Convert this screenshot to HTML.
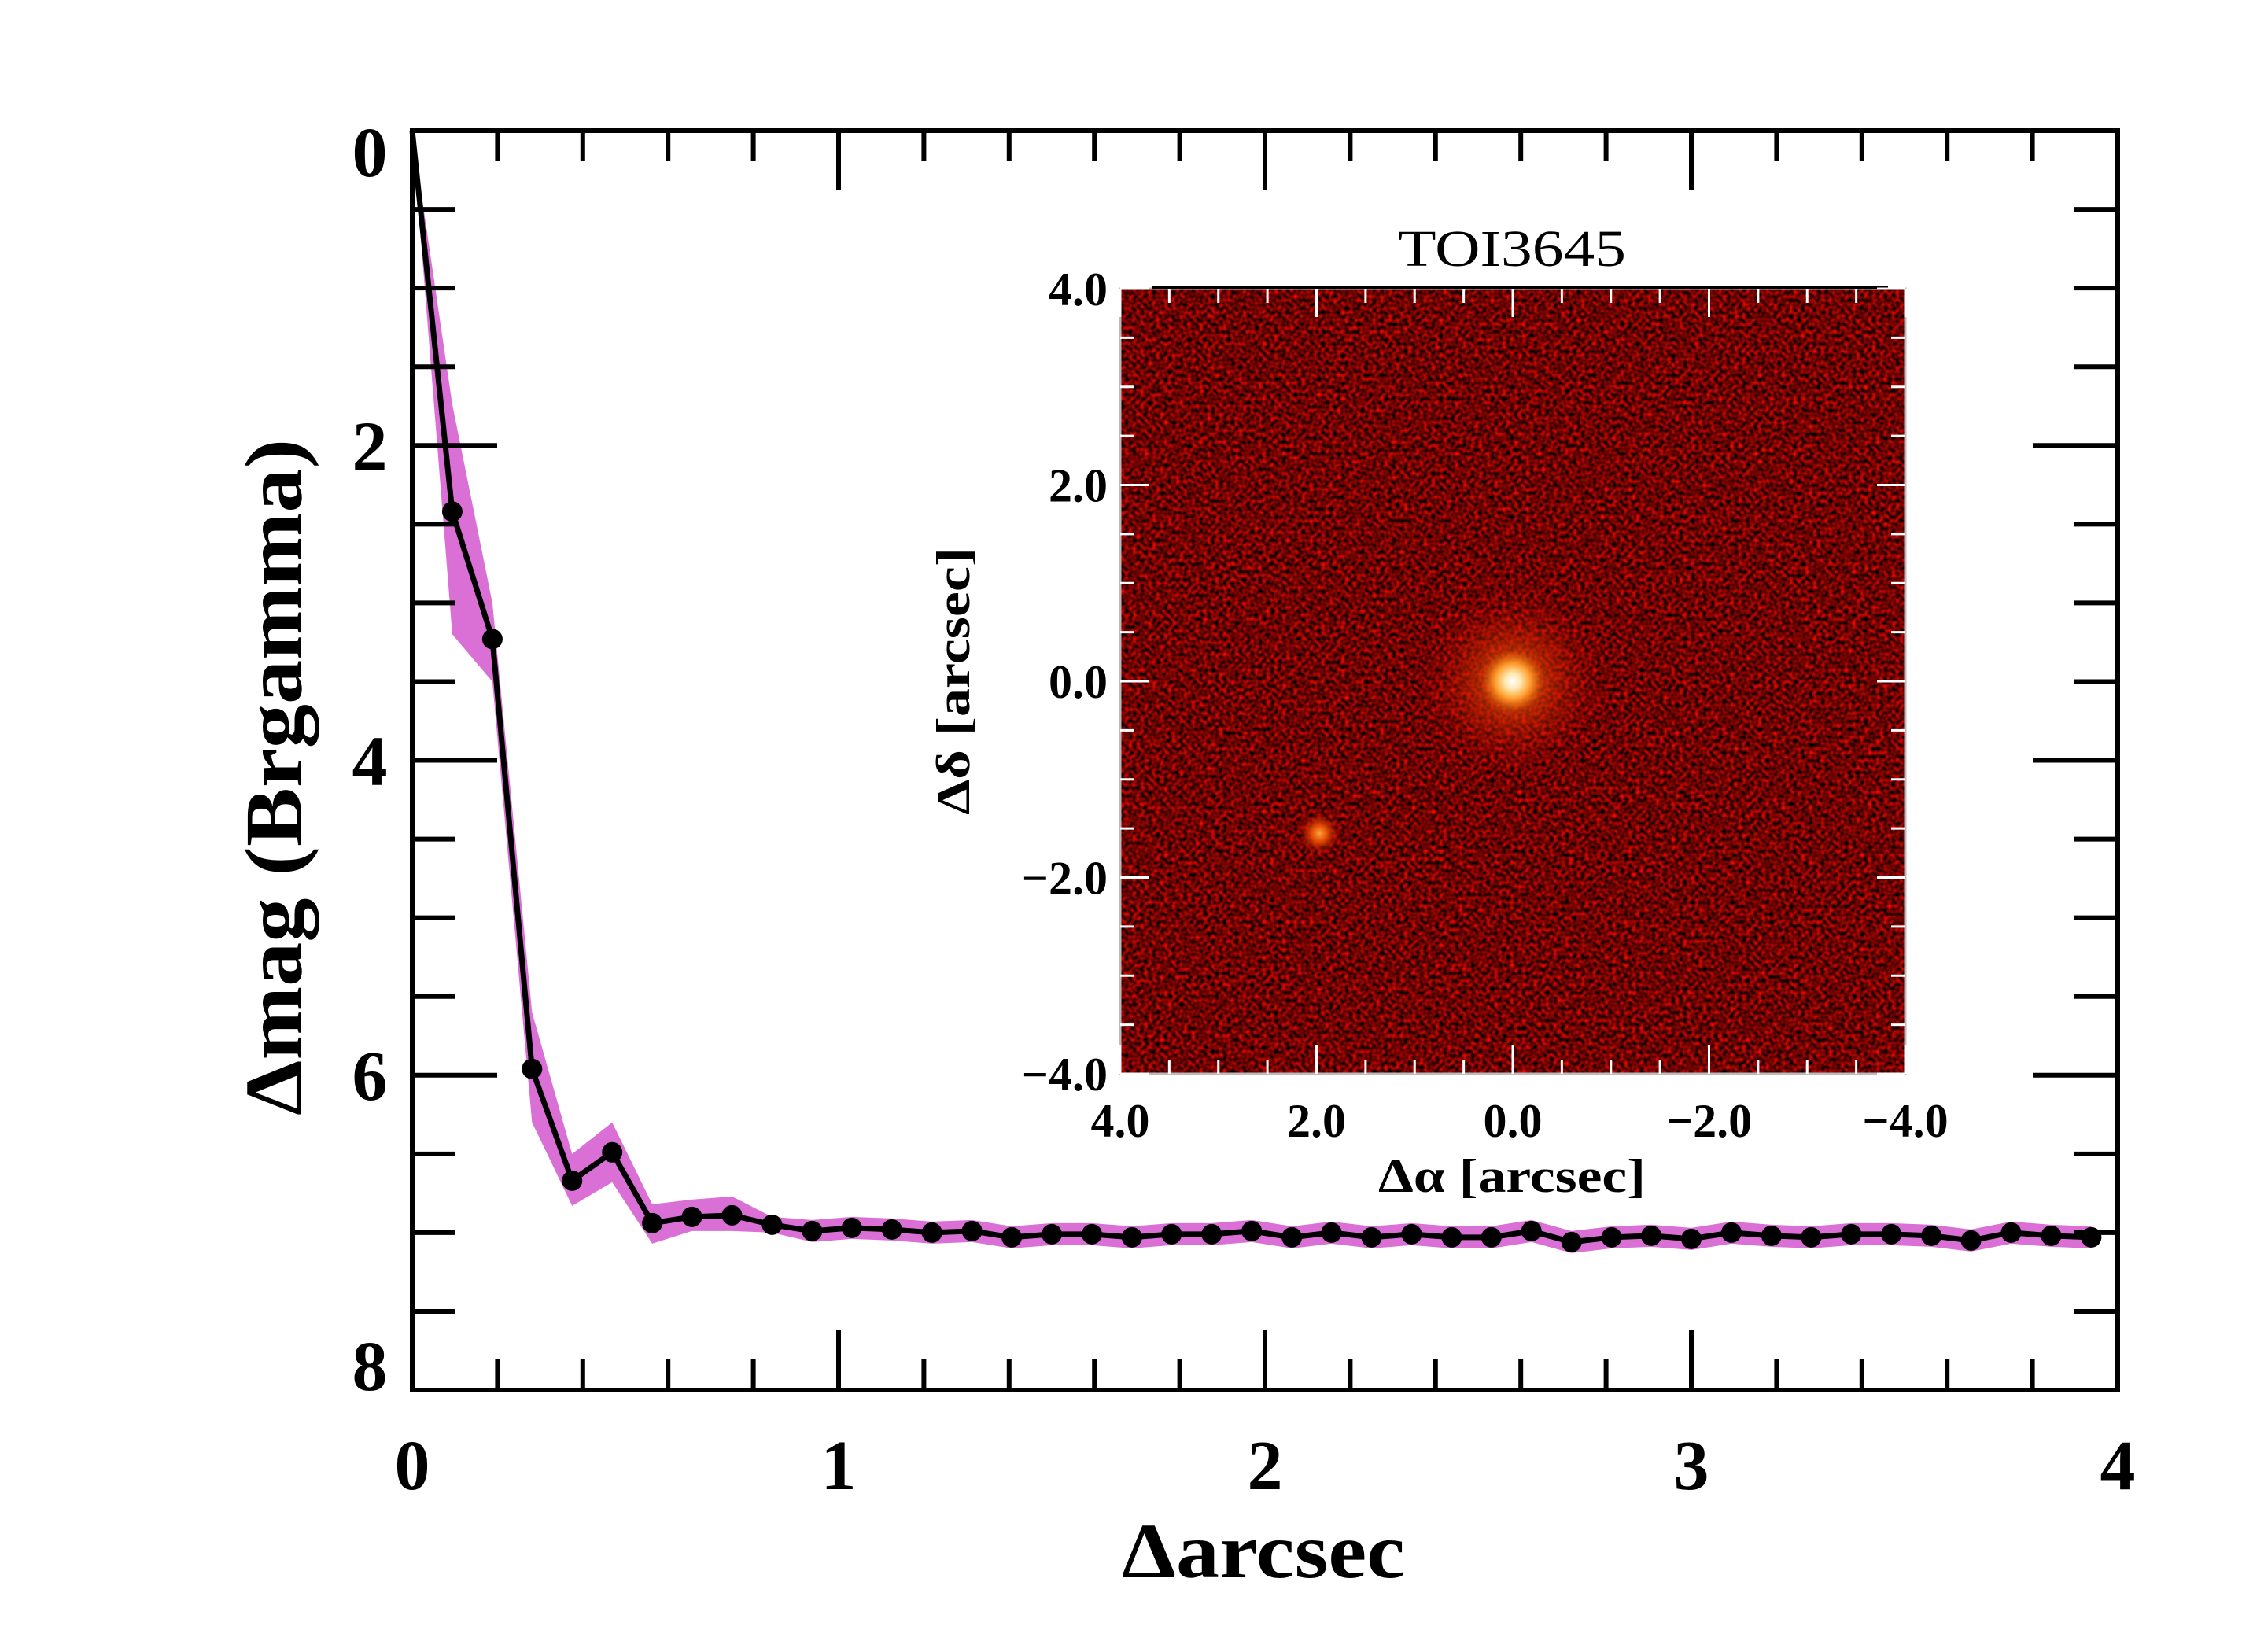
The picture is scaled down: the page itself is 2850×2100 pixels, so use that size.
<!DOCTYPE html>
<html><head><meta charset="utf-8"><style>
html,body{margin:0;padding:0;background:#fff}
svg{display:block}
text{font-family:"Liberation Serif",serif}
</style></head><body>
<svg id="chart" width="2850" height="2100" viewBox="0 0 2850 2100" xmlns="http://www.w3.org/2000/svg">
<defs>
<filter id="noise" x="0" y="0" width="100%" height="100%" color-interpolation-filters="sRGB">
<feTurbulence type="fractalNoise" baseFrequency="0.2" numOctaves="1" seed="7" result="t"/>
<feColorMatrix in="t" type="matrix" values="1.7 0 0 0 -0.42  0.08 0 0 0 -0.03  0 0 0 0 0  0 0 0 0 1"/>
</filter>
<radialGradient id="halo" cx="0.5" cy="0.5" r="0.5">
<stop offset="0" stop-color="#ff8a1a" stop-opacity="0.75"/>
<stop offset="0.45" stop-color="#d83000" stop-opacity="0.5"/>
<stop offset="1" stop-color="#a00000" stop-opacity="0"/>
</radialGradient>
<radialGradient id="core" cx="0.5" cy="0.5" r="0.5">
<stop offset="0" stop-color="#ffffff"/>
<stop offset="0.25" stop-color="#ffe8b0"/>
<stop offset="0.55" stop-color="#ffa030"/>
<stop offset="1" stop-color="#f06000" stop-opacity="0"/>
</radialGradient>
<radialGradient id="comp" cx="0.5" cy="0.5" r="0.5">
<stop offset="0" stop-color="#ffa040"/>
<stop offset="0.4" stop-color="#e04a00"/>
<stop offset="1" stop-color="#b01000" stop-opacity="0"/>
</radialGradient>
</defs>
<g id="main"></g>
<g id="inset"></g>
</svg>
<script>
// ---- main chart data ----
const sepArcsec = [0,0.094,0.188,0.281,0.375,0.469,0.563,0.656,0.75,0.844,0.938,1.031,1.125,1.219,1.313,1.406,1.5,1.594,1.688,1.781,1.875,1.969,2.063,2.156,2.25,2.344,2.438,2.531,2.625,2.719,2.813,2.906,3.0,3.094,3.188,3.281,3.375,3.469,3.563,3.656,3.75,3.844,3.938];
const deltaMag = [0,2.42,3.23,5.96,6.67,6.49,6.94,6.9,6.89,6.95,6.99,6.97,6.98,7.0,6.99,7.03,7.01,7.01,7.03,7.01,7.01,6.99,7.03,7.0,7.03,7.01,7.03,7.03,6.99,7.06,7.03,7.02,7.04,7.0,7.02,7.03,7.01,7.01,7.02,7.05,7.0,7.02,7.03];
const bandUpper = [0,1.74,3.0,5.6,6.5,6.3,6.82,6.79,6.77,6.9,6.92,6.9,6.91,6.93,6.92,6.96,6.94,6.94,6.96,6.94,6.94,6.92,6.96,6.93,6.96,6.94,6.96,6.96,6.92,6.99,6.96,6.95,6.97,6.93,6.95,6.96,6.94,6.94,6.95,6.98,6.93,6.95,6.96];
const bandLower = [0,3.2,3.5,6.3,6.83,6.68,7.07,6.99,6.99,7.0,7.06,7.04,7.05,7.07,7.06,7.1,7.08,7.08,7.1,7.08,7.08,7.06,7.1,7.07,7.1,7.08,7.1,7.1,7.06,7.13,7.1,7.09,7.11,7.07,7.09,7.1,7.08,7.08,7.09,7.12,7.07,7.09,7.1];
const xTickLabels = ["0","1","2","3","4"];
const yTickLabels = ["0","2","4","6","8"];
// ---- inset data ----
const insetTicks = [4,2,0,-2,-4];
const insetTickLabels = ["4.0","2.0","0.0","\u22122.0","\u22124.0"];
const primaryStar = [0.0,0.0];
const companionStar = [1.97,-1.55];

const NS="http://www.w3.org/2000/svg";
function mk(tag,attrs,parent){const e=document.createElementNS(NS,tag);for(const k in attrs)e.setAttribute(k,attrs[k]);parent.appendChild(e);return e;}

const L=524,R=2692,T=166,B=1767;
const X0=0,X1=4,Y0=0,Y1=8;
function sx(v){return L+(v-X0)/(X1-X0)*(R-L);}
function sy(v){return T+(v-Y0)/(Y1-Y0)*(B-T);}
const main=document.getElementById('main');

let pts=[];
for(let i=0;i<sepArcsec.length;i++)pts.push(sx(sepArcsec[i])+','+sy(bandUpper[i]));
for(let i=sepArcsec.length-1;i>=0;i--)pts.push(sx(sepArcsec[i])+','+sy(bandLower[i]));
const band=mk('polygon',{points:pts.join(' '),fill:'#da70d6',stroke:'none'},main);



const lp=sepArcsec.map((x,i)=>sx(x)+','+sy(deltaMag[i])).join(' ');
const line=mk('polyline',{points:lp,fill:'none',stroke:'#000','stroke-width':7,'stroke-linejoin':'round'},main);



for(let i=1;i<sepArcsec.length;i++){
  const c=mk('circle',{cx:sx(sepArcsec[i]),cy:sy(deltaMag[i]),r:13,fill:'#000'},main);
  
  
}

const frame=mk('rect',{x:L,y:T,width:R-L,height:B-T,fill:'none',stroke:'#000','stroke-width':6},main);



for(let k=0;k<=20;k++){
  const v=k*0.2, x=sx(v), major=(k%5===0);
  const len=major?76:39;
  mk('line',{x1:x,y1:B,x2:x,y2:B-len,stroke:'#000','stroke-width':6},main);
  mk('line',{x1:x,y1:T,x2:x,y2:T+len,stroke:'#000','stroke-width':6},main);
}
xTickLabels.forEach((s,i)=>{
  const t=mk('text',{x:sx(i),y:1893,'font-size':90,'font-weight':'bold','text-anchor':'middle'},main);
  t.textContent=s;
  
  
});
for(let k=0;k<=16;k++){
  const v=k*0.5, y=sy(v), major=(k%4===0);
  const len=major?108:55;
  mk('line',{x1:L,y1:y,x2:L+len,y2:y,stroke:'#000','stroke-width':6},main);
  mk('line',{x1:R,y1:y,x2:R-len,y2:y,stroke:'#000','stroke-width':6},main);
}
yTickLabels.forEach((s,i)=>{
  let off=31;
  if(i===0) off=58;
  if(i===yTickLabels.length-1) off=0;
  const t=mk('text',{x:470,y:sy(i*2)+off,'font-size':90,'font-weight':'bold','text-anchor':'middle'},main);
  t.textContent=s;
  
  
});
const xt=mk('text',{x:1606,y:2005,'font-size':100,'font-weight':'bold','text-anchor':'middle',textLength:360,lengthAdjust:'spacingAndGlyphs'},main);
xt.textContent='\u0394arcsec';


const yt=mk('text',{x:0,y:0,'font-size':104,'font-weight':'bold','text-anchor':'middle',transform:'translate(383,988) rotate(-90)',textLength:860,lengthAdjust:'spacingAndGlyphs'},main);
yt.textContent='\u0394mag (Brgamma)';



// ---- inset ----
const IL=1424,IR=2422,IT=367,IB=1365;
function ix(v){return IL+(4-v)/8*(IR-IL);}
function iy(v){return IT+(4-v)/8*(IB-IT);}
const ins=document.getElementById('inset');
const bg=mk('rect',{x:IL,y:IT,width:IR-IL,height:IB-IT,fill:'#000'},ins);


const nz=mk('rect',{x:IL,y:IT,width:IR-IL,height:IB-IT,filter:'url(#noise)'},ins);


const halo=mk('circle',{cx:ix(primaryStar[0]),cy:iy(primaryStar[1]),r:120,fill:'url(#halo)'},ins);


const core=mk('circle',{cx:ix(primaryStar[0]),cy:iy(primaryStar[1]),r:40,fill:'url(#core)'},ins);


const comp=mk('circle',{cx:ix(companionStar[0]),cy:iy(companionStar[1]),r:26,fill:'url(#comp)'},ins);


mk('rect',{x:IL,y:IT,width:IR-IL,height:IB-IT,fill:'none',stroke:'#bbb','stroke-width':3},ins);
mk('line',{x1:1465,y1:IT-2,x2:2400,y2:IT-2,stroke:'#000','stroke-width':4},ins);
for(let k=0;k<=16;k++){
  const v=4-k*0.5, major=(k%4===0), len=major?36:18;
  const x=ix(v), y=iy(v);
  mk('line',{x1:x,y1:IB,x2:x,y2:IB-len,stroke:'#fff','stroke-width':3},ins);
  mk('line',{x1:x,y1:IT,x2:x,y2:IT+len,stroke:'#fff','stroke-width':3},ins);
  mk('line',{x1:IL,y1:y,x2:IL+len,y2:y,stroke:'#fff','stroke-width':3},ins);
  mk('line',{x1:IR,y1:y,x2:IR-len,y2:y,stroke:'#fff','stroke-width':3},ins);
}
insetTicks.forEach((v,i)=>{
  const a=mk('text',{x:ix(v),y:1445,'font-size':60,'font-weight':'bold','text-anchor':'middle'},ins);
  a.textContent=insetTickLabels[i];
  
  
  const b=mk('text',{x:1408,y:iy(v)+21,'font-size':60,'font-weight':'bold','text-anchor':'end'},ins);
  b.textContent=insetTickLabels[i];
  
  
});
const tt=mk('text',{x:1922,y:338,'font-size':66,'text-anchor':'middle',textLength:290,lengthAdjust:'spacingAndGlyphs'},ins);
tt.textContent='TOI3645';


const ixt=mk('text',{x:1922,y:1515,'font-size':60,'font-weight':'bold','text-anchor':'middle',textLength:340,lengthAdjust:'spacingAndGlyphs'},ins);
ixt.textContent='\u0394\u03b1 [arcsec]';


const iyt=mk('text',{x:0,y:0,'font-size':60,'font-weight':'bold','text-anchor':'middle',transform:'translate(1232,866) rotate(-90)',textLength:340,lengthAdjust:'spacingAndGlyphs'},ins);
iyt.textContent='\u0394\u03b4 [arcsec]';


</script>
</body></html>
